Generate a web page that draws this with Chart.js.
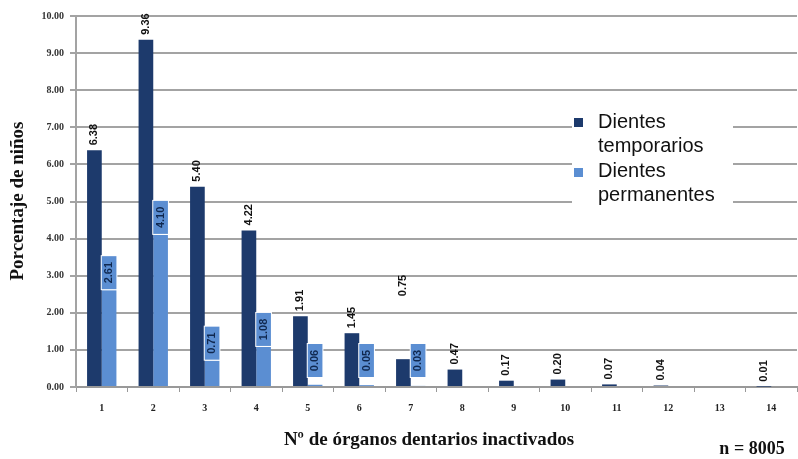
<!DOCTYPE html>
<html>
<head>
<meta charset="utf-8">
<script src="https://cdn.jsdelivr.net/npm/chart.js@4/dist/chart.umd.min.js"></script>
<style>
    html, body { margin: 0; padding: 0; background: #fff; }
    #wrap { width: 798px; height: 459px; }
</style>
</head>
<body>
<div id="wrap"><canvas id="chart" width="798" height="459"></canvas></div>
<script>
const categories = ['1', '2', '3', '4', '5', '6', '7', '8', '9', '10', '11', '12', '13', '14'];
const temporarios = [6.38, 9.36, 5.40, 4.22, 1.91, 1.45, 0.75, 0.47, 0.17, 0.20, 0.07, 0.04, null, 0.01];
const permanentes = [2.61, 4.10, 0.71, 1.08, 0.06, 0.05, 0.03, null, null, null, null, null, null, null];
const seriesNames = [['Dientes', 'temporarios'], ['Dientes', 'permanentes']];
const yTicks = [0, 1, 2, 3, 4, 5, 6, 7, 8, 9, 10];

const darkBlue = '#1d3a6c';
const lightBlue = '#5b8ed2';
const serif = '"Liberation Serif", "Times New Roman", serif';
const sans = '"Liberation Sans", Arial, sans-serif';

// value labels, rotated like the original
const barLabels = {
    id: 'barLabels',
    afterDatasetsDraw(chart) {
        const ctx = chart.ctx;
        const base = chart.scales.y.getPixelForValue(0);
        ctx.save();
        ctx.font = 'bold 11px ' + sans;
        ctx.textBaseline = 'middle';

        chart.getDatasetMeta(0).data.forEach((bar, i) => {
            const v = temporarios[i];
            if (v === null) return;
            let y = bar.y - 5;
            if (i === 6) y -= 58; // this one sits high in the original
            ctx.save();
            ctx.translate(bar.x, y);
            ctx.rotate(-Math.PI / 2);
            ctx.fillStyle = '#111';
            ctx.textAlign = 'left';
            ctx.fillText(v.toFixed(2), 0, 0);
            ctx.restore();
        });

        chart.getDatasetMeta(1).data.forEach((bar, i) => {
            const v = permanentes[i];
            if (v === null) return;
            const h = 33;
            const bottom = Math.min(bar.y - 1, base - 10);
            const w = bar.width;
            ctx.fillStyle = '#fff';
            ctx.fillRect(bar.x - w / 2 - 1, bottom - h - 1, w + 2, h + 2);
            ctx.fillStyle = lightBlue;
            ctx.fillRect(bar.x - w / 2, bottom - h, w, h);
            ctx.save();
            ctx.translate(bar.x, bottom - h / 2);
            ctx.rotate(-Math.PI / 2);
            ctx.fillStyle = '#10284f';
            ctx.textAlign = 'center';
            ctx.fillText(v.toFixed(2), 0, 0);
            ctx.restore();
        });
        ctx.restore();
    }
};

// legend over the grid, axis titles and the n note
const decorations = {
    id: 'decorations',
    afterDraw(chart) {
        const ctx = chart.ctx;
        ctx.save();
        ctx.fillStyle = '#fff';
        ctx.fillRect(572, 104, 161, 104);

        ctx.fillStyle = darkBlue;
        ctx.fillRect(574, 118, 9, 9);
        ctx.fillStyle = lightBlue;
        ctx.fillRect(574, 168, 9, 9);

        ctx.fillStyle = '#111';
        ctx.font = '20px ' + sans;
        ctx.textAlign = 'left';
        ctx.textBaseline = 'alphabetic';
        ctx.fillText(seriesNames[0][0], 598, 128);
        ctx.fillText(seriesNames[0][1], 598, 152);
        ctx.fillText(seriesNames[1][0], 598, 177);
        ctx.fillText(seriesNames[1][1], 598, 201);

        ctx.font = 'bold 19px ' + serif;
        ctx.textAlign = 'center';
        ctx.textBaseline = 'middle';
        ctx.fillText('Nº de órganos dentarios inactivados', 429, 440);

        ctx.save();
        ctx.translate(18, 201);
        ctx.rotate(-Math.PI / 2);
        ctx.fillText('Porcentaje de niños', 0, 0);
        ctx.restore();

        ctx.font = 'bold 18px ' + serif;
        ctx.fillText('n = 8005', 752, 449);
        ctx.restore();
    }
};

new Chart(document.getElementById('chart'), {
    type: 'bar',
    data: {
        labels: categories,
        datasets: [
            {
                label: seriesNames[0].join(' '),
                data: temporarios,
                backgroundColor: darkBlue,
                categoryPercentage: 0.57,
                barPercentage: 1.0
            },
            {
                label: seriesNames[1].join(' '),
                data: permanentes,
                backgroundColor: lightBlue,
                categoryPercentage: 0.57,
                barPercentage: 1.0
            }
        ]
    },
    options: {
        responsive: false,
        animation: false,
        layout: { padding: { top: 16, right: 1, left: 0, bottom: 0 } },
        plugins: {
            legend: { display: false },
            tooltip: { enabled: false }
        },
        scales: {
            x: {
                grid: {
                    drawOnChartArea: false,
                    drawTicks: true,
                    tickLength: 5,
                    color: '#999'
                },
                border: { display: true, color: '#999', width: 2 },
                ticks: {
                    padding: 10,
                    color: '#222',
                    font: { family: serif, size: 10, weight: 'bold' }
                },
                afterFit(scale) { scale.height = 72; }
            },
            y: {
                min: 0,
                max: 10,
                afterBuildTicks(scale) { scale.ticks = yTicks.map(v => ({ value: v })); },
                grid: {
                    color: '#a3a3a3',
                    lineWidth: 2,
                    tickLength: 6
                },
                border: { display: true, color: '#a3a3a3', width: 2 },
                ticks: {
                    padding: 6,
                    color: '#333',
                    font: { family: serif, size: 10, weight: 'bold' },
                    callback: v => Number(v).toFixed(2)
                },
                afterFit(scale) { scale.width = 76; }
            }
        }
    },
    plugins: [barLabels, decorations]
});
</script>
</body>
</html>
